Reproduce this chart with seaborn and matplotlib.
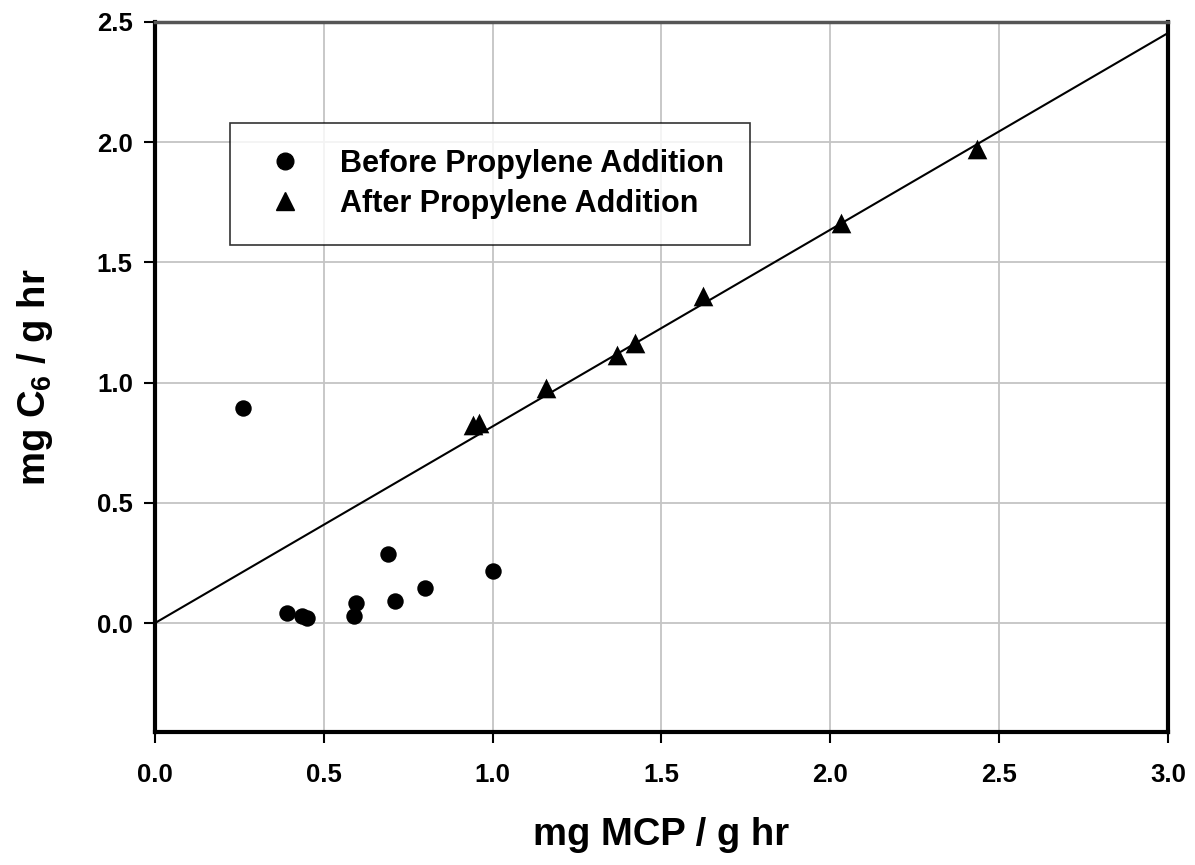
import numpy as np
import pandas as pd
import matplotlib
matplotlib.use("Agg")
import matplotlib.pyplot as plt
from matplotlib.lines import Line2D
import seaborn as sns

# Data
before_x = [0.26, 0.39, 0.435, 0.45, 0.59, 0.595, 0.69, 0.71, 0.80, 1.00]
before_y = [0.894, 0.043, 0.028, 0.020, 0.030, 0.085, 0.288, 0.093, 0.147, 0.215]
after_x = [0.942, 0.961, 1.157, 1.369, 1.423, 1.624, 2.033, 2.434]
after_y = [0.825, 0.830, 0.978, 1.115, 1.165, 1.360, 1.662, 1.970]
fit_slope = 0.818
fit_x = [0.0, 3.0]

labels = ["Before Propylene Addition", "After Propylene Addition"]
x_ticks = [0.0, 0.5, 1.0, 1.5, 2.0, 2.5, 3.0]
y_ticks = [0.0, 0.5, 1.0, 1.5, 2.0, 2.5]

before_df = pd.DataFrame({"x": before_x, "y": before_y})
after_df = pd.DataFrame({"x": after_x, "y": after_y})
fit_df = pd.DataFrame({"x": fit_x, "y": [fit_slope * v for v in fit_x]})

sns.set_theme(style="white")
plt.rcParams["font.family"] = ["Liberation Sans", "DejaVu Sans"]
plt.rcParams["font.weight"] = "bold"
plt.rcParams["text.color"] = "black"
plt.rcParams["axes.labelcolor"] = "black"
plt.rcParams["xtick.color"] = "black"
plt.rcParams["ytick.color"] = "black"
plt.rcParams["mathtext.fontset"] = "custom"
plt.rcParams["mathtext.rm"] = "Liberation Sans:bold"
plt.rcParams["mathtext.it"] = "Liberation Sans:bold"
plt.rcParams["mathtext.bf"] = "Liberation Sans:bold"
plt.rcParams["mathtext.default"] = "rm"

fig = plt.figure(figsize=(11.95, 8.65), dpi=100)
ax = fig.add_axes([0.1297, 0.1538, 0.8477, 0.8208])

sns.lineplot(data=fit_df, x="x", y="y", ax=ax, color="black", lw=1.5, zorder=2)
sns.scatterplot(data=before_df, x="x", y="y", marker="o", color="black",
                s=140, linewidth=0, ax=ax, zorder=3, legend=False)
sns.scatterplot(data=after_df, x="x", y="y", marker="^", color="black",
                s=200, linewidth=0, ax=ax, zorder=3, legend=False)

ax.set_xlim(0, 3.0)
ax.set_ylim(-0.453, 2.5)
ax.set_xticks(x_ticks)
ax.set_yticks(y_ticks)
ax.set_xticklabels([f"{v:.1f}" for v in x_ticks], fontsize=18.5, fontweight="bold")
ax.set_yticklabels([f"{v:.1f}" for v in y_ticks], fontsize=18.5, fontweight="bold")
ax.grid(True, color="#c4c4c4", lw=1.3)
ax.set_axisbelow(True)
ax.tick_params(axis="both", direction="out", length=8, width=1.5, color="black",
               left=True, bottom=True)
ax.tick_params(axis="x", pad=14)
ax.tick_params(axis="y", pad=8)

for side in ["left", "bottom", "right"]:
    ax.spines[side].set_color("black")
    ax.spines[side].set_linewidth(3)
ax.spines["top"].set_color("#555555")
ax.spines["top"].set_linewidth(2.5)

ax.set_xlabel("mg MCP / g hr", fontsize=27.5, fontweight="bold", labelpad=22)
ax.set_ylabel(r"mg C$_6$ / g hr", fontsize=27.5, fontweight="bold", labelpad=30)

handles = [Line2D([], [], marker="o", color="black", ls="none", markersize=12),
           Line2D([], [], marker="^", color="black", ls="none", markersize=13)]
leg = ax.legend(handles, labels, loc="upper left",
                bbox_to_anchor=(0.074, 0.858),
                prop={"weight": "bold", "size": 22},
                frameon=True, fancybox=False, edgecolor="black",
                borderpad=0.85, handlelength=1.9, handletextpad=0.85,
                labelspacing=0.33, borderaxespad=0)
leg.get_frame().set_linewidth(1.2)

fig.savefig("out.png", dpi=100)
